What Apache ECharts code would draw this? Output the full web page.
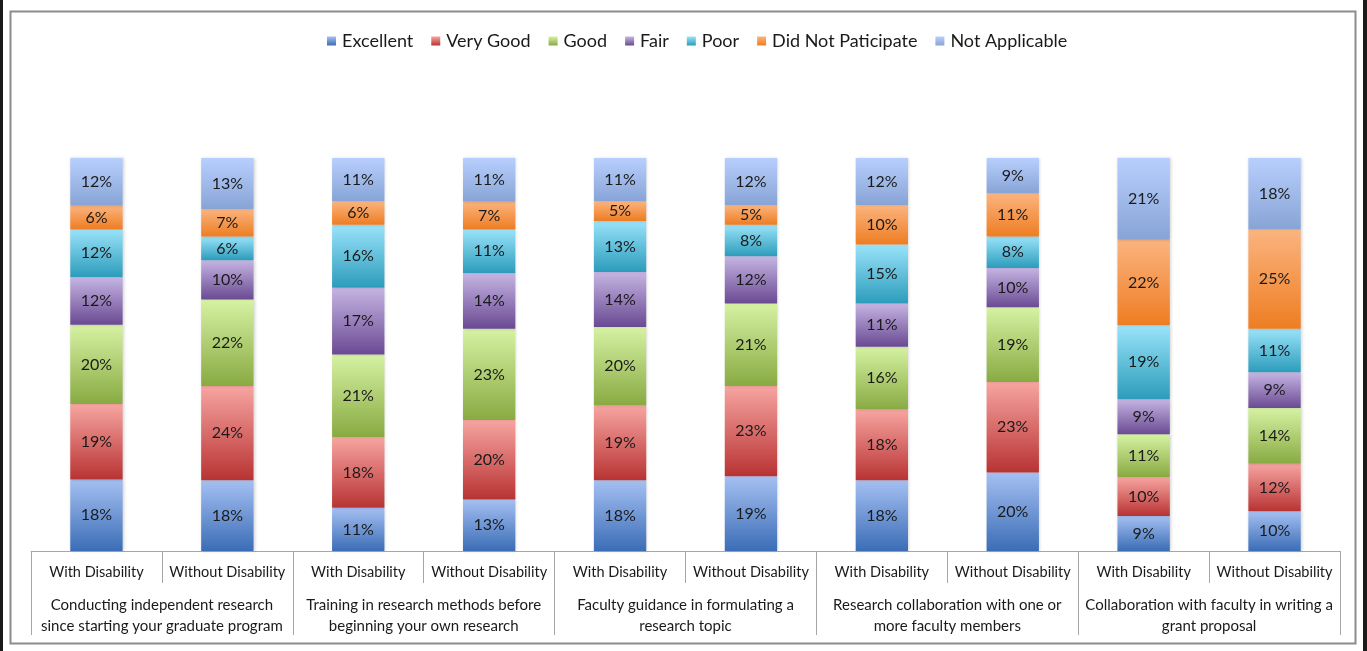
<!DOCTYPE html>
<html>
<head>
<meta charset="utf-8">
<script src="https://cdn.jsdelivr.net/npm/echarts@6/dist/echarts.min.js"></script>
<style>
html,body{margin:0;padding:0;background:#fff;}
#chart{width:1367px;height:651px;}
</style>
</head>
<body>
<div id="chart"></div>
<script>
const categories = ['With Disability','Without Disability','With Disability','Without Disability','With Disability','Without Disability','With Disability','Without Disability','With Disability','Without Disability'];
const groups = ['Conducting independent research\nsince starting your graduate program','Training in research methods before\nbeginning your own research','Faculty guidance in formulating a\nresearch topic','Research collaboration with one or\nmore faculty members','Collaboration with faculty in writing a\ngrant proposal'];
const seriesNames = ['Excellent','Very Good','Good','Fair','Poor','Did Not Paticipate','Not Applicable'];
const excellent = [18,18,11,13,18,19,18,20,9,10];
const veryGood  = [19,24,18,20,19,23,18,23,10,12];
const good      = [20,22,21,23,20,21,16,19,11,14];
const fair      = [12,10,17,14,14,12,11,10,9,9];
const poor      = [12,6,16,11,13,8,15,8,19,11];
const didNot    = [6,7,6,7,5,5,10,11,22,25];
const notApp    = [12,13,11,11,11,12,12,9,21,18];

const allData = [excellent,veryGood,good,fair,poor,didNot,notApp];
const gradients = [
  ['#a5c0f2','#3b6db6'],
  ['#f7a5a1','#b83333'],
  ['#d6f2a3','#88aa42'],
  ['#c6b5e3','#6a4a93'],
  ['#9ae3fa','#2c9cbb'],
  ['#fbb47f','#ee7d22'],
  ['#b8cffd','#87a4d6']
];
// 100% stacking (as in the original chart type)
const totals = categories.map((c,i)=>allData.reduce((s,arr)=>s+arr[i],0));

const series = seriesNames.map((name,k)=>({
  name: name,
  type: 'bar',
  stack: 'total',
  barWidth: '40%',
  data: allData[k].map((v,i)=>v/totals[i]*100),
  itemStyle: {
    color: {type:'linear',x:0,y:0,x2:0,y2:1,colorStops:[{offset:0,color:gradients[k][0]},{offset:1,color:gradients[k][1]}]},
    shadowColor:'rgba(0,0,0,0.18)', shadowBlur:3, shadowOffsetX:1
  },
  label: {
    show: true,
    position: 'inside',
    color: '#1a1a1a',
    fontFamily: 'Lato',
    fontSize: 16,
    formatter: p => allData[k][p.dataIndex] + '%'
  },
  emphasis:{disabled:true}
}));

const chart = echarts.init(document.getElementById('chart'), null, {renderer:'canvas'});
chart.setOption({
  animation: false,
  backgroundColor: '#fff',
  graphic: [
    {type:'rect', shape:{x:0,y:0,width:3,height:651}, style:{fill:'#1a1a1a'}, silent:true},
    {type:'rect', shape:{x:1363,y:0,width:4,height:651}, style:{fill:'#1a1a1a'}, silent:true},
    {type:'rect', shape:{x:10.5,y:11.5,width:1345,height:632}, style:{fill:'none',stroke:'#8c8c8c',lineWidth:2}, silent:true}
  ],
  legend: {
    top: 27,
    left: 322,
    itemWidth: 9,
    itemHeight: 9,
    itemGap: 18,
    icon: 'rect',
    textStyle: {fontFamily:'Lato', fontSize:18, color:'#1a1a1a', padding:[0,0,0,1]},
    data: seriesNames
  },
  grid: {left:31, right:27, top:158, bottom:100, containLabel:false},
  xAxis: [
    {
      type: 'category',
      data: categories,
      position: 'bottom',
      axisLine: {show:true, lineStyle:{color:'#a6a6a6', width:1}},
      axisTick: {show:true, length:32, lineStyle:{color:'#a6a6a6'}},
      axisLabel: {margin:14, fontFamily:'Lato', fontSize:14.5, color:'#1a1a1a', interval:0}
    },
    {
      type: 'category',
      data: groups,
      position: 'bottom',
      axisLine: {show:false},
      axisTick: {show:true, length:84, lineStyle:{color:'#a6a6a6'}},
      axisLabel: {margin:44, fontFamily:'Lato', fontSize:15, lineHeight:21, color:'#1a1a1a', interval:0}
    }
  ],
  yAxis: {type:'value', min:0, max:100, show:false, splitLine:{show:false}},
  series: series
});
</script>
</body>
</html>
